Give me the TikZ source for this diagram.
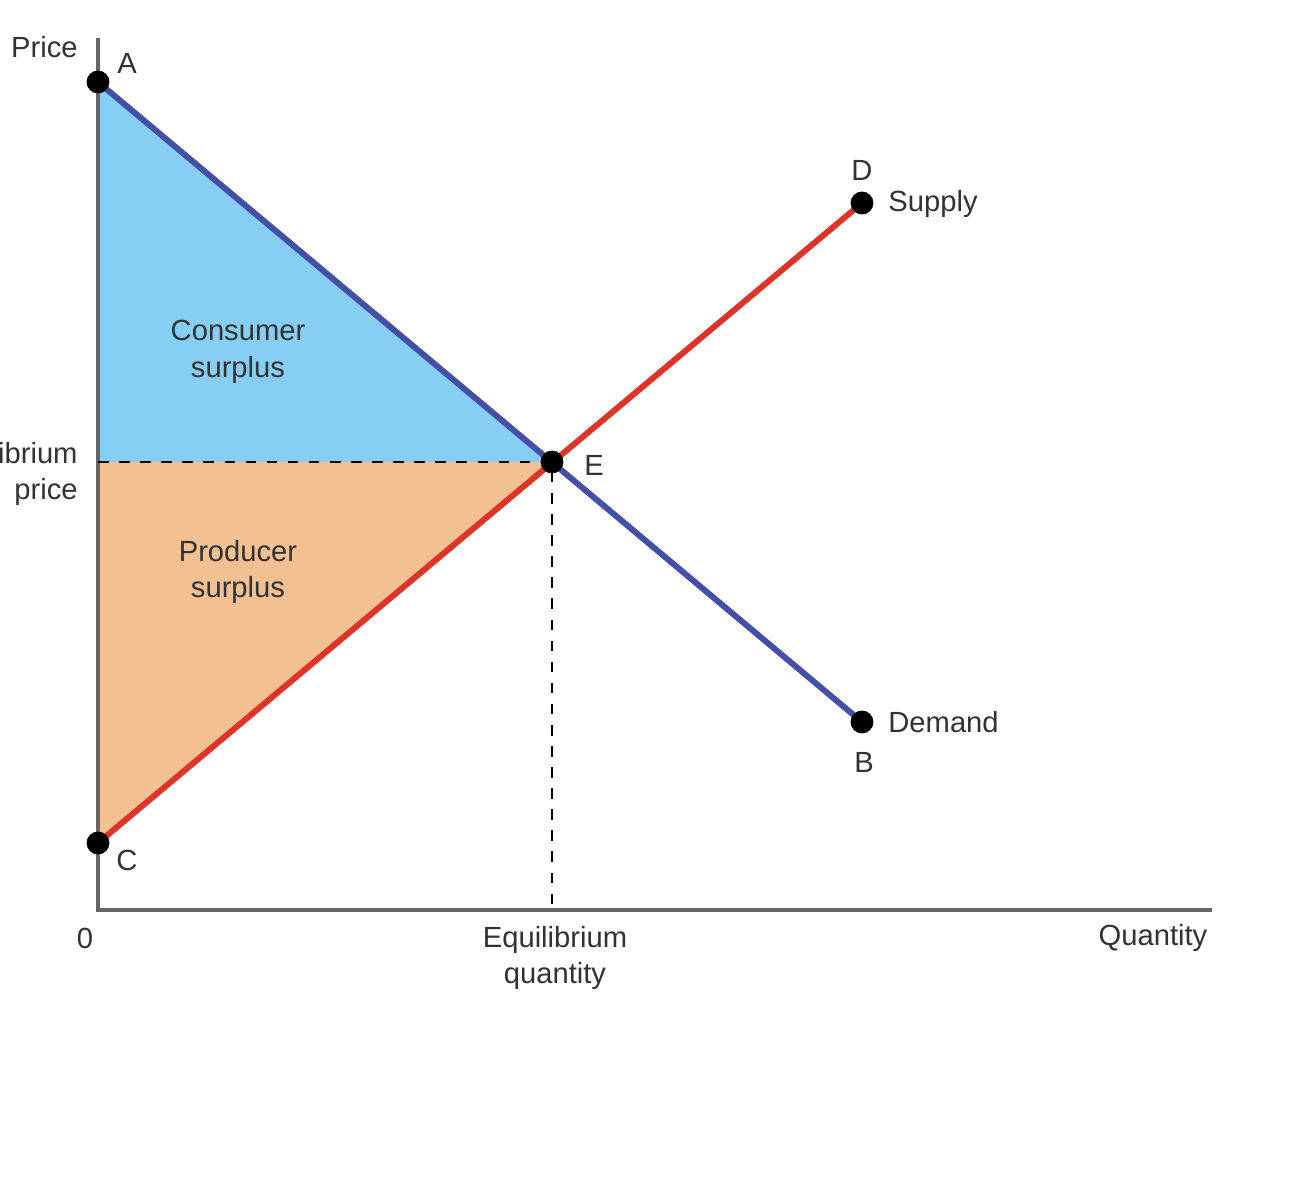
\documentclass[tikz,border=0pt]{standalone}
\usepackage{fontspec}
\setmainfont{Liberation Sans}
\usepackage{tikz}
\usetikzlibrary{positioning}
\definecolor{csfill}{RGB}{135,206,245}
\definecolor{psfill}{RGB}{242,192,145}
\definecolor{demline}{RGB}{68,80,168}
\definecolor{supline}{RGB}{222,52,40}
\definecolor{txt}{RGB}{50,50,50}
\tikzset{
    pt/.style = {circle,fill,inner sep=2.3pt},
    lbl/.style = {text=txt,font=\fontsize{8.3}{10.5}\selectfont,align=center},
    curve/.style = {line width=1.7pt}
}
\begin{document}
\begin{tikzpicture}
    \useasboundingbox (0,0) rectangle (12.95,12);

    \coordinate (O) at (0.98,2.90);
    \coordinate (A) at (0.98,11.18);
    \coordinate (B) at (8.62,4.78);
    \coordinate (C) at (0.98,3.57);
    \coordinate (D) at (8.62,9.97);
    \coordinate (E) at (5.52,7.38);
    \coordinate (Ey) at (0.98,7.38);
    \coordinate (Ex) at (5.52,2.90);
    \coordinate (ytop) at (0.98,11.62);
    \coordinate (xend) at (12.12,2.90);

    % surplus areas
    \fill[csfill] (A) -- (E) -- (Ey) -- cycle;
    \fill[psfill] (Ey) -- (E) -- (C) -- cycle;

    % axes
    \draw[gray!80!black, line width=0.9pt] (ytop) -- (O) -- (xend);
    \draw[dashed, line width=0.6pt] (Ey) -- (E) -- (Ex);

    % curves
    \draw[curve, demline] (A) -- (B);
    \draw[curve, supline] (C) -- (D);

    \foreach \p in {A,B,C,D,E}
        {\node[pt] (\p pt) at (\p) {};}

    \node[lbl] at (1.27,11.37) {A};
    \node[lbl] at (1.27,3.40) {C};
    \node[lbl] at (8.62,10.30) {D};
    \node[lbl] at (8.64,4.38) {B};
    \node[lbl] at (5.94,7.35) {E};
    \node[lbl, anchor=west] at (8.76,9.96) {Supply};
    \node[lbl, anchor=west] at (8.76,4.78) {Demand};

    \node[lbl] (cs) at (2.38,8.48) {Consumer\\surplus};
    \node[lbl] (ps) at (2.38,6.28) {Producer\\surplus};

    \node[lbl, anchor=east] at (0.90,11.53) {Price};
    \node[lbl, anchor=east, align=right] at (0.90,7.26) {Equilibrium\\price};
    \node[lbl] at (0.85,2.62) {0};
    \node[lbl] at (5.55,2.42) {Equilibrium\\quantity};
    \node[lbl] at (11.53,2.62) {Quantity};
\end{tikzpicture}
\end{document}
